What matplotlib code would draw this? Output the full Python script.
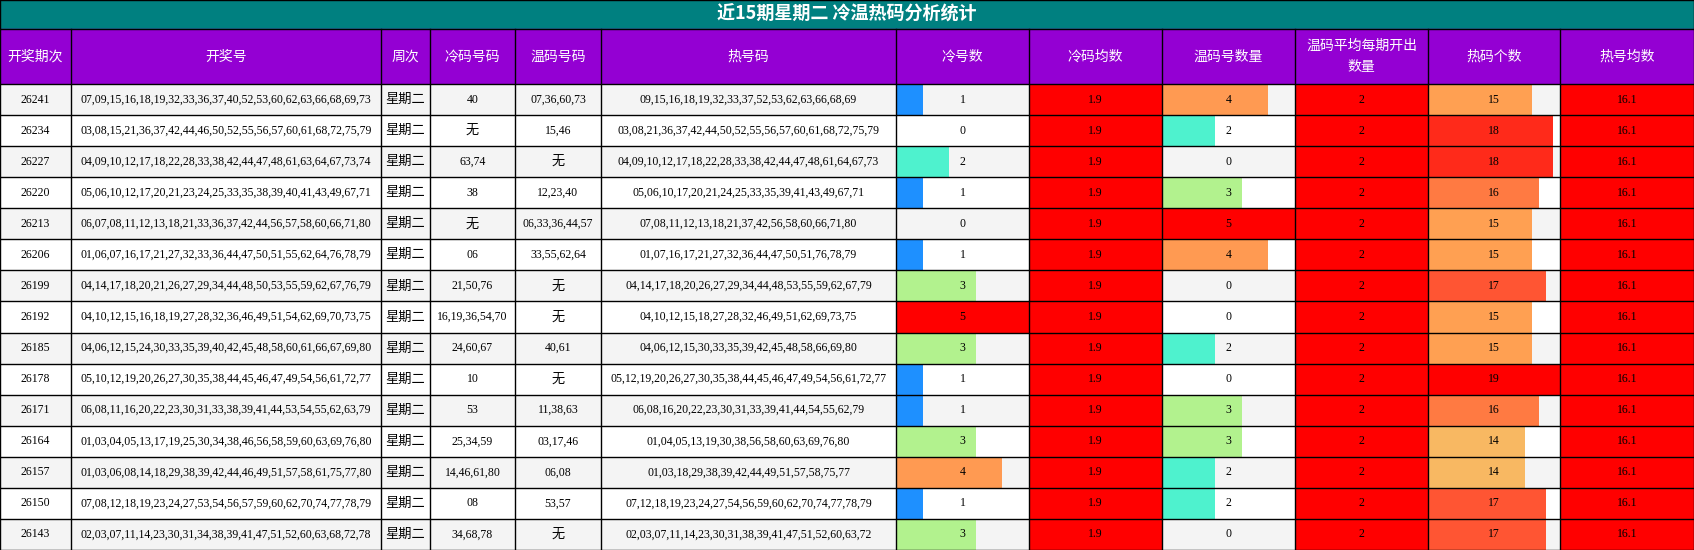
import matplotlib
matplotlib.use("Agg")
import matplotlib.pyplot as plt
from matplotlib.patches import Rectangle

title = "近15期星期二 冷温热码分析统计"
headers = ["开奖期次", "开奖号", "周次", "冷码号码", "温码号码", "热号码", "冷号数", "冷码均数",
           "温码号数量", "温码平均每期开出\n数量", "热码个数", "热号均数"]
periods = ["26241","26234","26227","26220","26213","26206","26199","26192","26185","26178","26171","26164","26157","26150","26143"]
draws = [
"07,09,15,16,18,19,32,33,36,37,40,52,53,60,62,63,66,68,69,73",
"03,08,15,21,36,37,42,44,46,50,52,55,56,57,60,61,68,72,75,79",
"04,09,10,12,17,18,22,28,33,38,42,44,47,48,61,63,64,67,73,74",
"05,06,10,12,17,20,21,23,24,25,33,35,38,39,40,41,43,49,67,71",
"06,07,08,11,12,13,18,21,33,36,37,42,44,56,57,58,60,66,71,80",
"01,06,07,16,17,21,27,32,33,36,44,47,50,51,55,62,64,76,78,79",
"04,14,17,18,20,21,26,27,29,34,44,48,50,53,55,59,62,67,76,79",
"04,10,12,15,16,18,19,27,28,32,36,46,49,51,54,62,69,70,73,75",
"04,06,12,15,24,30,33,35,39,40,42,45,48,58,60,61,66,67,69,80",
"05,10,12,19,20,26,27,30,35,38,44,45,46,47,49,54,56,61,72,77",
"06,08,11,16,20,22,23,30,31,33,38,39,41,44,53,54,55,62,63,79",
"01,03,04,05,13,17,19,25,30,34,38,46,56,58,59,60,63,69,76,80",
"01,03,06,08,14,18,29,38,39,42,44,46,49,51,57,58,61,75,77,80",
"07,08,12,18,19,23,24,27,53,54,56,57,59,60,62,70,74,77,78,79",
"02,03,07,11,14,23,30,31,34,38,39,41,47,51,52,60,63,68,72,78",
]
weekday = "星期二"
cold = ["40","无","63,74","38","无","06","21,50,76","16,19,36,54,70","24,60,67","10","53","25,34,59","14,46,61,80","08","34,68,78"]
warm = ["07,36,60,73","15,46","无","12,23,40","06,33,36,44,57","33,55,62,64","无","无","40,61","无","11,38,63","03,17,46","06,08","53,57","无"]
hot = [
"09,15,16,18,19,32,33,37,52,53,62,63,66,68,69",
"03,08,21,36,37,42,44,50,52,55,56,57,60,61,68,72,75,79",
"04,09,10,12,17,18,22,28,33,38,42,44,47,48,61,64,67,73",
"05,06,10,17,20,21,24,25,33,35,39,41,43,49,67,71",
"07,08,11,12,13,18,21,37,42,56,58,60,66,71,80",
"01,07,16,17,21,27,32,36,44,47,50,51,76,78,79",
"04,14,17,18,20,26,27,29,34,44,48,53,55,59,62,67,79",
"04,10,12,15,18,27,28,32,46,49,51,62,69,73,75",
"04,06,12,15,30,33,35,39,42,45,48,58,66,69,80",
"05,12,19,20,26,27,30,35,38,44,45,46,47,49,54,56,61,72,77",
"06,08,16,20,22,23,30,31,33,39,41,44,54,55,62,79",
"01,04,05,13,19,30,38,56,58,60,63,69,76,80",
"01,03,18,29,38,39,42,44,49,51,57,58,75,77",
"07,12,18,19,23,24,27,54,56,59,60,62,70,74,77,78,79",
"02,03,07,11,14,23,30,31,38,39,41,47,51,52,60,63,72",
]
cold_cnt = [1,0,2,1,0,1,3,5,3,1,1,3,4,1,3]
cold_avg = [1.9]*15
warm_cnt = [4,2,0,3,5,4,0,0,2,0,3,3,2,2,0]
warm_avg = [2]*15
hot_cnt = [15,18,18,16,15,15,17,15,15,19,16,14,14,17,17]
hot_avg = [16.1]*15

W, H = 1694, 550
fig = plt.figure(figsize=(W/100, H/100), dpi=100)
ax = fig.add_axes([0, 0, 1, 1])
ax.set_xlim(0, W); ax.set_ylim(H, 0); ax.axis("off")

cols = [0, 71, 381, 430, 515, 601, 896, 1029, 1162, 1295, 1428, 1560, 1694]
title_h, head_b = 29, 84
row_h = (H - head_b) / 15
CJK = ["Noto Sans CJK SC", "DejaVu Sans"]
SER = ["Liberation Serif", "Noto Sans CJK SC"]

ax.add_patch(Rectangle((0, 0), W, title_h, color="#008080", zorder=1))
ax.text(W/2, title_h/2, title, ha="center", va="center", color="white", fontsize=13, fontweight="bold", family=CJK)
ax.add_patch(Rectangle((0, title_h), W, head_b-title_h, color="#9400D3", zorder=1))
for i, h in enumerate(headers):
    ax.text((cols[i]+cols[i+1])/2, (title_h+head_b)/2, h, ha="center", va="center", color="white", fontsize=10, family=CJK, linespacing=1.6)

small = {1:"#1E90FF", 2:"#4EF2CE", 3:"#B2F28E", 4:"#FF9A52", 5:"#FF0000"}
big = {14:"#F8B862", 15:"#FFA052", 16:"#FF7A42", 17:"#FF5533", 18:"#FF2A1A", 19:"#FF0000"}

def bar(ci, y0, val, vmax, color, label):
    x0, x1 = cols[ci], cols[ci+1]
    if val > 0:
        ax.add_patch(Rectangle((x0, y0), (x1-x0)*min(val/vmax, 1), row_h, color=color, zorder=2, lw=0))
    ax.text((x0+x1)/2, y0+row_h/2, label, ha="center", va="center", fontsize=8.5, family=SER, zorder=3)

for r in range(15):
    y0 = head_b + r*row_h
    bg = "#F4F4F4" if r % 2 == 0 else "white"
    ax.add_patch(Rectangle((0, y0), W, row_h, color=bg, zorder=1, lw=0))
    texts = [periods[r], draws[r], weekday, cold[r], warm[r], hot[r]]
    for ci, t in enumerate(texts):
        fam = CJK if any(ord(c) > 127 for c in t) else SER
        fs = 9.5 if fam is CJK else 8.5
        ax.text((cols[ci]+cols[ci+1])/2, y0+row_h/2, t, ha="center", va="center", fontsize=fs, family=fam, zorder=3)
    bar(6, y0, cold_cnt[r], 5, small.get(cold_cnt[r], "#FF0000"), str(cold_cnt[r]))
    bar(7, y0, cold_avg[r], cold_avg[r], "#FF0000", str(cold_avg[r]))
    bar(8, y0, warm_cnt[r], 5, small.get(warm_cnt[r], "#FF0000"), str(warm_cnt[r]))
    bar(9, y0, warm_avg[r], warm_avg[r], "#FF0000", str(warm_avg[r]))
    bar(10, y0, hot_cnt[r], 19, big.get(hot_cnt[r], "#FF0000"), str(hot_cnt[r]))
    bar(11, y0, hot_avg[r], hot_avg[r], "#FF0000", str(hot_avg[r]))

lw = 1.0
for x in cols:
    ax.plot([x, x], [title_h, H], color="black", lw=lw, zorder=4)
for y in [0, title_h, head_b] + [head_b + r*row_h for r in range(1, 16)]:
    ax.plot([0, W], [y, y], color="black", lw=lw, zorder=4)
ax.plot([0, 0], [0, title_h], color="black", lw=lw, zorder=4)
ax.plot([W, W], [0, title_h], color="black", lw=lw, zorder=4)

fig.savefig("out.png", dpi=100)
